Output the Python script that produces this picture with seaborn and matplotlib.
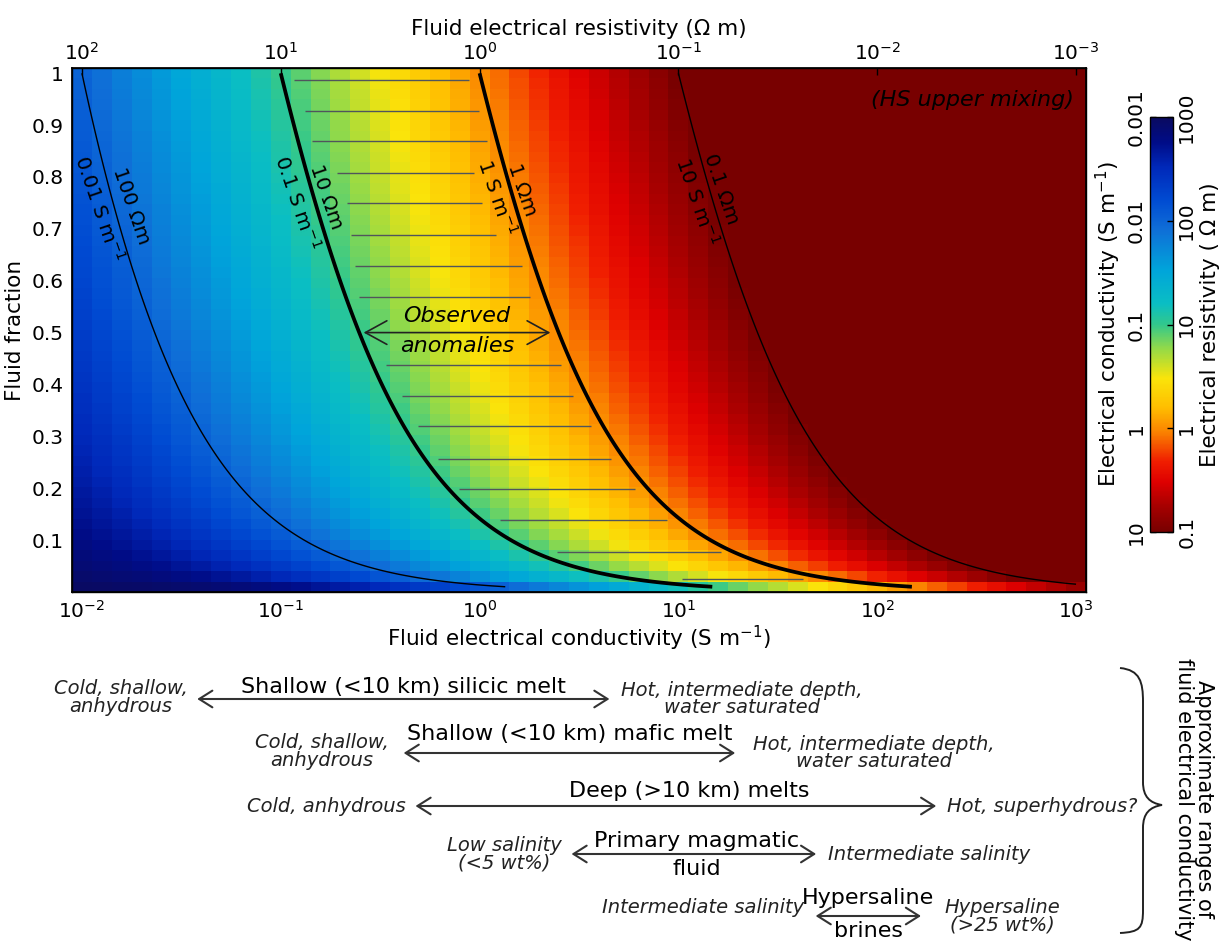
import numpy as np
import matplotlib
matplotlib.use("Agg")
import matplotlib.pyplot as plt
import matplotlib.transforms as mtransforms
from matplotlib.colors import LogNorm, LinearSegmentedColormap
from matplotlib.path import Path
from matplotlib.patches import PathPatch
import seaborn as sns

sns.set_theme(style="ticks")
plt.rcParams["font.family"] = ["DejaVu Sans"]
plt.rcParams["mathtext.default"] = "regular"
plt.rcParams["axes.edgecolor"] = "black"
plt.rcParams["text.color"] = "black"
plt.rcParams["xtick.color"] = "black"
plt.rcParams["ytick.color"] = "black"
plt.rcParams["axes.labelcolor"] = "black"

# ---------------- model grid ----------------
log_fluid_conductivity = np.round(np.arange(-2.0, 3.0001, 0.1), 1)   # log10 (S/m), cell centres
fluid_fraction = np.round(np.linspace(0.01, 1.0, 50), 4)              # cell centres
matrix_conductivity = 1e-3                                            # host rock, S/m

# iso-conductivity lines of the bulk rock
iso_conductivity = [0.01, 0.1, 1.0, 10.0]
iso_rho_labels = ["100 Ωm", "10 Ωm", "1 Ωm", "0.1 Ωm"]
iso_sigma_labels = [r"0.01 S m$^{-1}$", r"0.1 S m$^{-1}$", r"1 S m$^{-1}$", r"10 S m$^{-1}$"]
iso_rho_label_x = [0.0178, 0.170, 1.63, 16.4]
iso_rho_label_y = [0.743, 0.762, 0.776, 0.776]
iso_sigma_label_x = [0.0122, 0.120, 1.22, 12.3]
iso_sigma_label_y = [0.738, 0.751, 0.761, 0.753]

# hatching of the observed anomaly field
anomaly_fraction = [0.987, 0.927, 0.870, 0.807, 0.749, 0.688, 0.628, 0.569,
                    0.437, 0.378, 0.320, 0.257, 0.198, 0.138, 0.077, 0.025]
anomaly_sigma_lo = [0.116, 0.132, 0.143, 0.191, 0.215, 0.225, 0.235, 0.247,
                    0.337, 0.406, 0.488, 0.615, 0.792, 1.26, 2.44, 10.4]
anomaly_sigma_hi = [0.881, 0.989, 1.084, 0.933, 1.023, 1.216, 1.626, 1.803,
                    2.553, 2.965, 3.614, 4.603, 6.081, 8.81, 16.44, 42.5]
observed_sigma = [0.261, 2.27]
observed_fraction = 0.5

# colour bar ticks
cbar_conductivity = [0.001, 0.01, 0.1, 1, 10]
cbar_conductivity_labels = ["0.001", "0.01", "0.1", "1", "10"]
cbar_resistivity_labels = ["1000", "100", "10", "1", "0.1"]

# axis ticks
x_ticks = [1e-2, 1e-1, 1e0, 1e1, 1e2, 1e3]
top_tick_labels = [r"$10^{2}$", r"$10^{1}$", r"$10^{0}$", r"$10^{-1}$", r"$10^{-2}$", r"$10^{-3}$"]
y_ticks = [0.1, 0.2, 0.3, 0.4, 0.5, 0.6, 0.7, 0.8, 0.9, 1.0]
y_tick_labels = ["0.1", "0.2", "0.3", "0.4", "0.5", "0.6", "0.7", "0.8", "0.9", "1"]

# approximate fluid conductivity ranges (S/m)
range_names = ["Shallow (<10 km) silicic melt", "Shallow (<10 km) mafic melt",
               "Deep (>10 km) melts", "Primary magmatic", "Hypersaline"]
range_names_below = ["", "", "", "fluid", "brines"]
range_lo = [0.038, 0.415, 0.476, 2.9, 49.0]
range_hi = [4.5, 19.3, 198.0, 49.3, 166.0]
range_low_end = ["Cold, shallow,\nanhydrous", "Cold, shallow,\nanhydrous", "Cold, anhydrous",
                 "Low salinity\n(<5 wt%)", "Intermediate salinity"]
range_high_end = ["Hot, intermediate depth,\nwater saturated", "Hot, intermediate depth,\nwater saturated",
                  "Hot, superhydrous?", "Intermediate salinity", "Hypersaline\n(>25 wt%)"]


def hs_upper(sigma_fluid, phi, sigma_matrix):
    """Hashin-Shtrikman upper bound for a fluid-connected two-phase medium."""
    return sigma_fluid + (1.0 - phi) / (1.0 / (sigma_matrix - sigma_fluid) + phi / (3.0 * sigma_fluid))


# ---------------- colour map ----------------
cmap_nodes = [
    (0.00, (10, 10, 95)),
    (0.06, (0, 12, 135)),
    (0.12, (0, 40, 185)),
    (0.20, (0, 75, 210)),
    (0.27, (15, 110, 215)),
    (0.37, (0, 165, 218)),
    (0.45, (10, 190, 195)),
    (0.50, (50, 200, 140)),
    (0.56, (150, 218, 70)),
    (0.63, (250, 228, 10)),
    (0.70, (255, 190, 0)),
    (0.76, (250, 130, 0)),
    (0.83, (240, 30, 0)),
    (0.88, (222, 0, 0)),
    (0.94, (165, 0, 0)),
    (1.00, (120, 0, 0)),
]
cmap = LinearSegmentedColormap.from_list(
    "hs_bulk", [(p, tuple(c / 255 for c in rgb)) for p, rgb in cmap_nodes], N=512)
norm = LogNorm(vmin=1e-3, vmax=10)

# ---------------- figure ----------------
W, H = 1223, 941
fig = plt.figure(figsize=(W / 100, H / 100), dpi=100, facecolor="white")
ax = fig.add_axes([72 / W, 349 / H, 1014 / W, 524 / H])

lx = log_fluid_conductivity
x_edges = 10 ** np.concatenate([[lx[0] - 0.05], (lx[:-1] + lx[1:]) / 2, [lx[-1] + 0.05]])
dphi = fluid_fraction[1] - fluid_fraction[0]
y_edges = np.concatenate([[fluid_fraction[0] - dphi / 2],
                          (fluid_fraction[:-1] + fluid_fraction[1:]) / 2,
                          [fluid_fraction[-1] + dphi / 2]])
SF, PHI = np.meshgrid(10 ** lx, fluid_fraction)
bulk = hs_upper(SF, PHI, matrix_conductivity)
mesh = ax.pcolormesh(x_edges, y_edges, bulk, cmap=cmap, norm=norm, shading="flat",
                     edgecolors="none", antialiased=False)

# iso-conductivity lines from the same mixing model on a finer grid
sf_fine = np.logspace(-2, 3, 700)
phi_fine = np.linspace(0.01, 1.0, 500)
SFf, PHIf = np.meshgrid(sf_fine, phi_fine)
bulk_fine = np.log10(hs_upper(SFf, PHIf, matrix_conductivity))
ax.contour(sf_fine, phi_fine, bulk_fine, levels=np.log10(iso_conductivity),
           colors="black", linewidths=[1.0, 2.7, 2.7, 1.0], linestyles="solid")

# labels along the iso-lines
for i in range(len(iso_conductivity)):
    ax.text(iso_rho_label_x[i], iso_rho_label_y[i], iso_rho_labels[i], rotation=-71,
            rotation_mode="anchor", ha="center", va="center", fontsize=14.5)
    ax.text(iso_sigma_label_x[i], iso_sigma_label_y[i], iso_sigma_labels[i], rotation=-71,
            rotation_mode="anchor", ha="center", va="center", fontsize=14.5)

# hatching of the observed anomalies
ax.hlines(anomaly_fraction, anomaly_sigma_lo, anomaly_sigma_hi, colors="#50555c", linewidth=1.0)
ax.annotate("", xy=(observed_sigma[1], observed_fraction), xytext=(observed_sigma[0], observed_fraction),
            arrowprops=dict(arrowstyle="<->,head_length=1.55,head_width=0.85", mutation_scale=10,
                            lw=1.2, color="#222222", shrinkA=0, shrinkB=0))
obs_mid = np.sqrt(observed_sigma[0] * observed_sigma[1])
ax.annotate("Observed", xy=(obs_mid, observed_fraction), xytext=(0, 12), textcoords="offset points",
            ha="center", va="center", fontsize=16, style="italic")
ax.annotate("anomalies", xy=(obs_mid, observed_fraction), xytext=(0, -9.5), textcoords="offset points",
            ha="center", va="center", fontsize=16, style="italic")

ax.text(0.988, 0.938, "(HS upper mixing)", transform=ax.transAxes, ha="right", va="center",
        fontsize=16, style="italic")

# axes
ax.set_xscale("log")
ax.set_xlim(x_edges[0], x_edges[-1])
ax.set_ylim(y_edges[0], y_edges[-1])
ax.set_xticks(x_ticks)
ax.minorticks_off()
ax.set_yticks(y_ticks)
ax.set_yticklabels(y_tick_labels)
ax.tick_params(axis="both", direction="in", length=5, width=1, labelsize=14.5, right=True, top=False)
ax.tick_params(axis="x", pad=6)
ax.tick_params(axis="y", pad=6)
for s in ax.spines.values():
    s.set_linewidth(1.0)
ax.set_xlabel(r"Fluid electrical conductivity (S m$^{-1}$)", fontsize=15.5, labelpad=1)
ax.set_ylabel("Fluid fraction", fontsize=15.5, labelpad=5)

ax_top = ax.twiny()
ax_top.set_xscale("log")
ax_top.set_xlim(ax.get_xlim())
ax_top.set_xticks(x_ticks)
ax_top.set_xticklabels(top_tick_labels)
ax_top.minorticks_off()
ax_top.tick_params(axis="x", direction="in", length=5, width=1, labelsize=14.5, pad=3)
ax_top.set_xlabel("Fluid electrical resistivity (Ω m)", fontsize=15.5, labelpad=5)
ax_top.grid(False)

# colour bar
cax = fig.add_axes([1150 / W, 409 / H, 23 / W, 415 / H])
cb = fig.colorbar(mesh, cax=cax)
cb.outline.set_linewidth(1.0)
cax.invert_yaxis()
cb.set_ticks(cbar_conductivity, labels=cbar_conductivity_labels)
cax.minorticks_off()
cax.yaxis.set_ticks_position("left")
cax.yaxis.set_label_position("left")
cax.tick_params(axis="y", direction="in", length=4, width=1, labelsize=14.5, pad=3, labelrotation=90)
for t in cax.get_yticklabels():
    t.set_verticalalignment("center")
cb.set_label(r"Electrical conductivity (S m$^{-1}$)", fontsize=15.5, labelpad=3)

rax = cax.twinx()
rax.set_yscale("log")
rax.set_ylim(10, 1e-3)
rax.set_yticks(cbar_conductivity)
rax.set_yticklabels(cbar_resistivity_labels)
rax.minorticks_off()
rax.tick_params(axis="y", direction="in", length=4, width=1, labelsize=14.5, pad=3, labelrotation=90)
for t in rax.get_yticklabels():
    t.set_verticalalignment("center")
rax.set_ylabel("Electrical resistivity ( Ω m)", fontsize=15.5, rotation=90, labelpad=3)
for s in rax.spines.values():
    s.set_visible(False)

# ---------------- fluid conductivity ranges ----------------
row_y = [(H - 699) / H, (H - 753) / H, (H - 806) / H, (H - 854) / H, (H - 916) / H]
name_dy = [4.5, 9.5, 6.5, 5.0, 8.5]
name_dx = [0, 0, 10, 2, 0]
low_gap = [7, 10.5, 7, 7, 8]
low_dy = [1, 1, 0, 0, 6]
high_gap = [8.5, 13, 8, 8.5, 17]
blend = mtransforms.blended_transform_factory(ax.transData, fig.transFigure)
for i in range(len(range_names)):
    y = row_y[i]
    ax.annotate("", xy=(range_hi[i], y), xycoords=blend, xytext=(range_lo[i], y), textcoords=blend,
                arrowprops=dict(arrowstyle="<->,head_length=0.95,head_width=0.6", mutation_scale=10,
                                lw=1.5, color="#333333", shrinkA=0, shrinkB=0),
                annotation_clip=False)
    mid = np.sqrt(range_lo[i] * range_hi[i])
    ax.annotate(range_names[i], xy=(mid, y), xycoords=blend, xytext=(name_dx[i], name_dy[i]),
                textcoords="offset points", ha="center", va="baseline", fontsize=16,
                annotation_clip=False)
    if range_names_below[i]:
        ax.annotate(range_names_below[i], xy=(mid, y), xycoords=blend, xytext=(name_dx[i], -3.5),
                    textcoords="offset points", ha="center", va="top", fontsize=16,
                    annotation_clip=False)
    ax.annotate(range_low_end[i], xy=(range_lo[i], y), xycoords=blend, xytext=(-low_gap[i], low_dy[i]),
                textcoords="offset points", ha="right", va="center", multialignment="center",
                fontsize=14, style="italic", color="#222222", linespacing=0.9, annotation_clip=False)
    ax.annotate(range_high_end[i], xy=(range_hi[i], y), xycoords=blend, xytext=(high_gap[i], 0),
                textcoords="offset points", ha="left", va="center", multialignment="center",
                fontsize=14, style="italic", color="#222222", linespacing=0.9, annotation_clip=False)

# curly brace grouping the ranges
brace_px = [(1120, 668), (1140, 670), (1143, 682), (1143, 702),
            (1143, 782), (1143, 797), (1150, 803), (1162, 805),
            (1150, 807), (1143, 813), (1143, 828),
            (1143, 910), (1143, 928), (1140, 932), (1120, 933)]
codes = [Path.MOVETO, Path.CURVE4, Path.CURVE4, Path.CURVE4,
         Path.LINETO, Path.CURVE4, Path.CURVE4, Path.CURVE4,
         Path.CURVE4, Path.CURVE4, Path.CURVE4,
         Path.LINETO, Path.CURVE4, Path.CURVE4, Path.CURVE4]
brace = Path([(x / W, 1 - y / H) for x, y in brace_px], codes)
fig.add_artist(PathPatch(brace, transform=fig.transFigure, fill=False, lw=1.4, edgecolor="#222222"))
fig.text(1194 / W, 1 - 799 / H, "Approximate ranges of\nfluid electrical conductivity",
         rotation=-90, ha="center", va="center", multialignment="center", fontsize=15,
         linespacing=1.0)

fig.savefig("out.png", dpi=100, facecolor="white")
